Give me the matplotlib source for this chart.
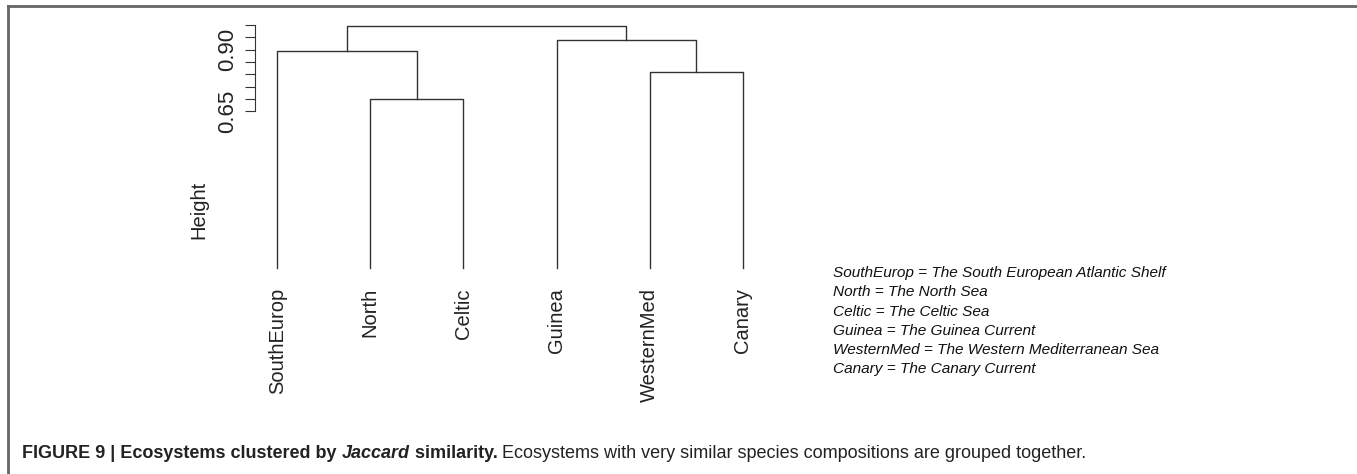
import matplotlib
matplotlib.use('Agg')
import matplotlib.pyplot as plt

plt.rcParams['font.family'] = ['Liberation Sans', 'DejaVu Sans']

W, H = 1357, 474

leaves = ["SouthEurop", "North", "Celtic", "Guinea", "WesternMed", "Canary"]
leaf_height = 0.012
merge_heights = {"N_C": 0.70, "W_Ca": 0.809, "S_NC": 0.894, "G_WCa": 0.939, "root": 0.996}
legend_lines = [
    "SouthEurop = The South European Atlantic Shelf",
    "North = The North Sea",
    "Celtic = The Celtic Sea",
    "Guinea = The Guinea Current",
    "WesternMed = The Western Mediterranean Sea",
    "Canary = The Canary Current",
]
yticks = [0.65, 0.70, 0.75, 0.80, 0.85, 0.90, 0.95, 1.00]
ytick_labels = ["0.65", "", "", "", "", "0.90", "", ""]

fig = plt.figure(figsize=(W / 100, H / 100), dpi=100)


def px(x0, y0, x1, y1):
    return [x0 / W, 1 - y1 / H, (x1 - x0) / W, (y1 - y0) / H]


# frame lines
fig.add_artist(plt.Line2D([8 / W, 8 / W], [0, 1 - 6 / H], color='#666666', lw=2))
fig.add_artist(plt.Line2D([8 / W, 1], [1 - 6 / H, 1 - 6 / H], color='#666666', lw=2))

ax = fig.add_axes(px(184, 25, 836, 271))
ax.set_xlim(0, 7)
ax.set_ylim(0, 1.0)

pos = {name: i + 1 for i, name in enumerate(leaves)}


def link(xa, ya, xb, yb, h):
    ax.plot([xa, xa, xb, xb], [ya, h, h, yb], color='#333333', lw=1)
    return (xa + xb) / 2, h


nc = link(pos["North"], leaf_height, pos["Celtic"], leaf_height, merge_heights["N_C"])
wc = link(pos["WesternMed"], leaf_height, pos["Canary"], leaf_height, merge_heights["W_Ca"])
snc = link(pos["SouthEurop"], leaf_height, nc[0], nc[1], merge_heights["S_NC"])
gwc = link(pos["Guinea"], leaf_height, wc[0], wc[1], merge_heights["G_WCa"])
link(snc[0], snc[1], gwc[0], gwc[1], merge_heights["root"])

for name, x in pos.items():
    ax.text(x, -0.07, name, rotation=90, ha='center', va='top', fontsize=14.5, color='#222222')

for s in ['top', 'right', 'bottom']:
    ax.spines[s].set_visible(False)
ax.spines['left'].set_position(('data', 0.765))
ax.spines['left'].set_bounds(0.65, 1.0)
ax.spines['left'].set_color('#333333')
ax.set_xticks([])
ax.set_yticks(yticks)
ax.set_yticklabels(ytick_labels, rotation=90, va='center', fontsize=16, color='#222222')
ax.tick_params(axis='y', length=7, color='#333333', pad=5)
ax.set_ylabel("Height", fontsize=14.5, color='#222222')
ax.yaxis.set_label_coords(24 / 652, 0.25)

for i, line in enumerate(legend_lines):
    fig.text(833 / W, 1 - (273 + i * 19.3) / H, line, style='italic', fontsize=11.1,
             va='center', ha='left', color='#111111')

fs = 13
parts = [("FIGURE 9 | Ecosystems clustered by ", 'bold', 'normal'),
         ("Jaccard", 'bold', 'italic'),
         (" similarity.", 'bold', 'normal'),
         (" Ecosystems with very similar species compositions are grouped together.", 'normal', 'normal')]
x = 22
fig.canvas.draw()
for txt, wt, st in parts:
    t = fig.text(x / W, 1 - 458 / H, txt, fontsize=fs, fontweight=wt, style=st,
                 va='baseline', color='#222222')
    fig.canvas.draw()
    x += t.get_window_extent().width

fig.savefig("out.png", dpi=100)
